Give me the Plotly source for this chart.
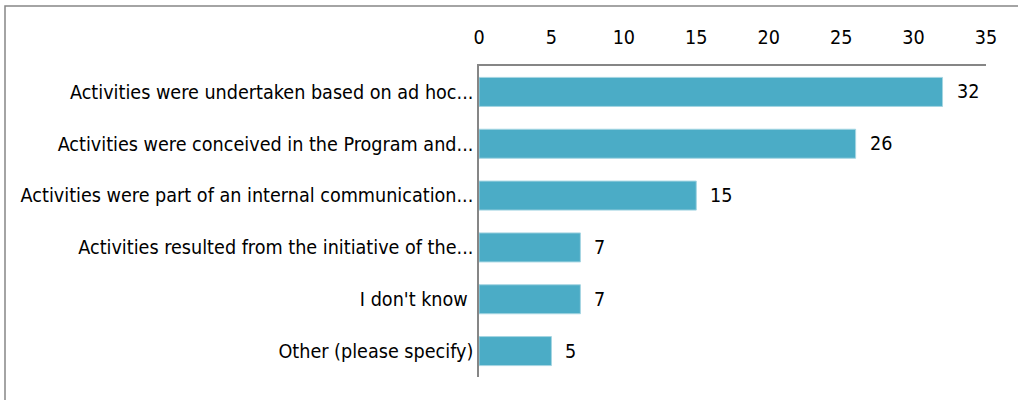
import plotly.graph_objects as go

categories = [
    "Activities were undertaken based on ad hoc...",
    "Activities were conceived in the Program and...",
    "Activities were part of an internal communication...",
    "Activities resulted from the initiative of the...",
    "I don't know ",
    "Other (please specify)",
]
values = [32, 26, 15, 7, 7, 5]
tick_vals = [0, 5, 10, 15, 20, 25, 30, 35]

FONT = "DejaVu Sans Condensed, DejaVu Sans"
FS = 19.6
W, H = 1018, 400
L, R, T, B = 479, 32, 66, 23

fig = go.Figure(go.Bar(
    x=values, y=categories, orientation="h",
    marker=dict(color="#4BACC6", line=dict(color="#A5D5E2", width=1)),
    width=0.56,
    cliponaxis=False,
    hoverinfo="skip",
))

for v, c in zip(values, categories):
    fig.add_annotation(
        x=v, y=c, text=str(v), showarrow=False,
        xanchor="left", xshift=12,
        font=dict(family=FONT, size=FS, color="#000000"),
    )

pw = W - L - R
ph = H - T - B
fig.update_layout(
    width=W, height=H,
    margin=dict(l=L, r=R, t=T, b=B, pad=0, autoexpand=False),
    paper_bgcolor="white", plot_bgcolor="white",
    showlegend=False,
    font=dict(family=FONT, size=FS, color="#000000"),
    xaxis=dict(
        side="top", range=[0, 35], tickvals=tick_vals,
        showgrid=False, zeroline=False, showline=True,
        linecolor="#868686", linewidth=1.5,
        ticks="outside", ticklen=0, ticklabelstandoff=12,
        tickfont=dict(family=FONT, size=FS, color="#000000"),
        fixedrange=True,
    ),
    yaxis=dict(
        autorange="reversed", showgrid=False, zeroline=False,
        showline=True, linecolor="#868686", linewidth=1.5,
        ticks="", ticklabelstandoff=0,
        tickfont=dict(family=FONT, size=FS, color="#000000"),
        fixedrange=True,
    ),
    shapes=[dict(
        type="rect", xref="paper", yref="paper",
        x0=(5 - L) / pw, x1=(W + 20 - L) / pw,
        y0=-(B + 20) / ph, y1=1 + (T - 6) / ph,
        line=dict(color="#868686", width=1.5), fillcolor="rgba(0,0,0,0)",
        layer="below",
    )],
)

fig.write_html(
    "out.html",
    config={"displayModeBar": False},
    post_script="document.body.style.margin='0';document.body.style.padding='0';",
)
